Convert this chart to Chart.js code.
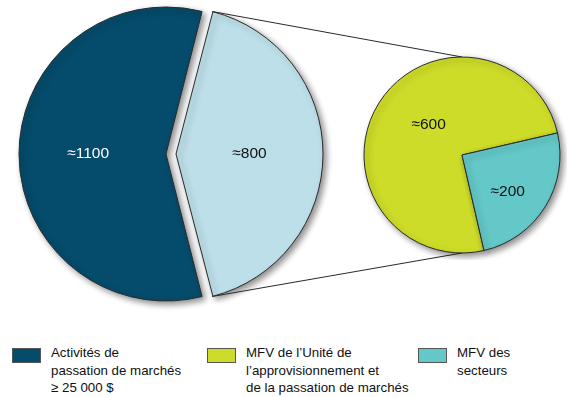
<!DOCTYPE html>
<html>
<head>
<meta charset="utf-8">
<script src="https://cdn.jsdelivr.net/npm/chart.js@4/dist/chart.umd.min.js"></script>
<style>
  body { margin: 0; background: #fff; width: 574px; height: 397px; overflow: hidden; position: relative; font-family: "Liberation Sans", Arial, sans-serif; }
  #main { position: absolute; left: 0; top: 0; }
  #detail { position: absolute; left: 357px; top: 50px; }
  .leg { position: absolute; top: 344px; font-size: 13.3px; line-height: 17.7px; color: #111; }
  .sw { position: absolute; top: 348px; width: 27px; height: 13px; border: 1px solid #555; }
</style>
</head>
<body>
<canvas id="main" width="574" height="330"></canvas>
<canvas id="detail" width="210" height="210"></canvas>
<div id="legend"></div>
<script>
// Données
const mainCategories = ['Activités de passation de marchés ≥ 25 000 $', 'MFV'];
const mainValues = [1100, 800];
const mainColors = ['#054b6b', '#bddfe9'];

const detailCategories = ['MFV de l’Unité de l’approvisionnement et de la passation de marchés', 'MFV des secteurs'];
const detailValues = [600, 200];
const detailColors = ['#cddc29', '#64c8c8'];

// Légende (lignes telles qu'affichées)
const legendLines = [
    ['Activités de', 'passation de marchés', '≥ 25 000 $'],
    ['MFV de l’Unité  de', 'l’approvisionnement et', 'de la passation de marchés'],
    ['MFV des', 'secteurs']
];
const legendColors = [mainColors[0], detailColors[0], detailColors[1]];
const legendX = [12, 207, 418];

// Chart.js décale un secteur de offset/4 et agrandit son rayon de offset/4 * fix
function arcShift(arc) {
    const off = (arc.options.offset || 0) / 4;
    const fix = 1 - Math.sin(Math.min(Math.PI, arc.circumference || 0));
    const mid = (arc.startAngle + arc.endAngle) / 2;
    return {
        x: arc.x + Math.cos(mid) * off,
        y: arc.y + Math.sin(mid) * off,
        r: arc.outerRadius + off * fix,
        grow: off * fix
    };
}

// garder le même rayon pour le secteur détaché
const sameRadiusPlugin = {
    id: 'memeRayon',
    afterDatasetsUpdate(chart) {
        chart.getDatasetMeta(0).data.forEach(arc => {
            const s = arcShift(arc);
            arc.outerRadius -= s.grow;
        });
    }
};

// ombre portée sous les secteurs
const shadowPlugin = {
    id: 'ombre',
    beforeDatasetsDraw(chart) {
        const c = chart.ctx;
        c.save();
        c.shadowColor = 'rgba(0,0,0,0.45)';
        c.shadowBlur = 6;
        c.shadowOffsetX = 3;
        c.shadowOffsetY = 3;
    },
    afterDatasetsDraw(chart) {
        chart.ctx.restore();
    }
};

// étiquettes ≈ valeur dans les secteurs
const labelPlugin = {
    id: 'etiquettes',
    afterDraw(chart, args, opts) {
        const c = chart.ctx;
        const meta = chart.getDatasetMeta(0);
        const values = chart.data.datasets[0].data;
        c.save();
        c.font = '15.5px "Liberation Sans", Arial, sans-serif';
        c.textAlign = 'center';
        c.textBaseline = 'middle';
        meta.data.forEach((arc, i) => {
            const s = arcShift(arc);
            const mid = (arc.startAngle + arc.endAngle) / 2 + (opts.turn ? opts.turn[i] : 0);
            const r = s.r * opts.dist[i];
            c.fillStyle = opts.colors[i];
            c.fillText('≈' + values[i], s.x + Math.cos(mid) * r, s.y + Math.sin(mid) * r);
        });
        c.restore();
    }
};

const baseOptions = {
    responsive: false,
    animation: false,
    events: [],
    plugins: { legend: { display: false }, tooltip: { enabled: false } }
};

// petit camembert (détail)
const detailChart = new Chart(document.getElementById('detail'), {
    type: 'pie',
    data: {
        labels: detailCategories,
        datasets: [{
            data: detailValues,
            backgroundColor: detailColors,
            borderColor: '#2a2a2a',
            borderWidth: 1
        }]
    },
    options: {
        ...baseOptions,
        radius: 98,
        rotation: 167,
        plugins: {
            ...baseOptions.plugins,
            etiquettes: { dist: [0.46, 0.6], turn: [0.18, 0.12], colors: ['#111', '#111'] }
        }
    },
    plugins: [shadowPlugin, labelPlugin]
});

// lignes de liaison entre le secteur MFV et le petit camembert
const linkPlugin = {
    id: 'liaison',
    afterDraw(chart) {
        const arc = chart.getDatasetMeta(0).data[1];
        const s = arcShift(arc);
        const dArc = detailChart.getDatasetMeta(0).data[0];
        const canvasD = document.getElementById('detail');
        const dx = canvasD.offsetLeft + dArc.x;
        const dy = canvasD.offsetTop + dArc.y;
        const c = chart.ctx;
        c.save();
        c.strokeStyle = '#2a2a2a';
        c.lineWidth = 1;
        c.beginPath();
        c.moveTo(s.x + Math.cos(arc.startAngle) * s.r, s.y + Math.sin(arc.startAngle) * s.r);
        c.lineTo(dx, dy - dArc.outerRadius);
        c.moveTo(s.x + Math.cos(arc.endAngle) * s.r, s.y + Math.sin(arc.endAngle) * s.r);
        c.lineTo(dx, dy + dArc.outerRadius);
        c.stroke();
        c.restore();
    }
};

// grand camembert
const mainTotal = mainValues.reduce((a, b) => a + b, 0);
const darkAngle = 360 * mainValues[0] / mainTotal;
const mainChart = new Chart(document.getElementById('main'), {
    type: 'pie',
    data: {
        labels: mainCategories,
        datasets: [{
            data: mainValues,
            backgroundColor: mainColors,
            borderColor: '#2a2a2a',
            borderWidth: 1,
            offset: [0, 40]
        }]
    },
    options: {
        ...baseOptions,
        radius: 147,
        rotation: 270 - darkAngle / 2,
        layout: { padding: { left: 0, right: 242, top: 0, bottom: 22 } },
        plugins: {
            ...baseOptions.plugins,
            etiquettes: { dist: [0.53, 0.5], colors: ['#fff', '#111'] }
        }
    },
    plugins: [sameRadiusPlugin, shadowPlugin, linkPlugin, labelPlugin]
});

// légende HTML
const legend = document.getElementById('legend');
legendLines.forEach((lines, i) => {
    const sw = document.createElement('div');
    sw.className = 'sw';
    sw.style.left = legendX[i] + 'px';
    sw.style.background = legendColors[i];
    legend.appendChild(sw);
    const t = document.createElement('div');
    t.className = 'leg';
    t.style.left = (legendX[i] + 39) + 'px';
    t.innerHTML = lines.join('<br>');
    legend.appendChild(t);
});
</script>
</body>
</html>
